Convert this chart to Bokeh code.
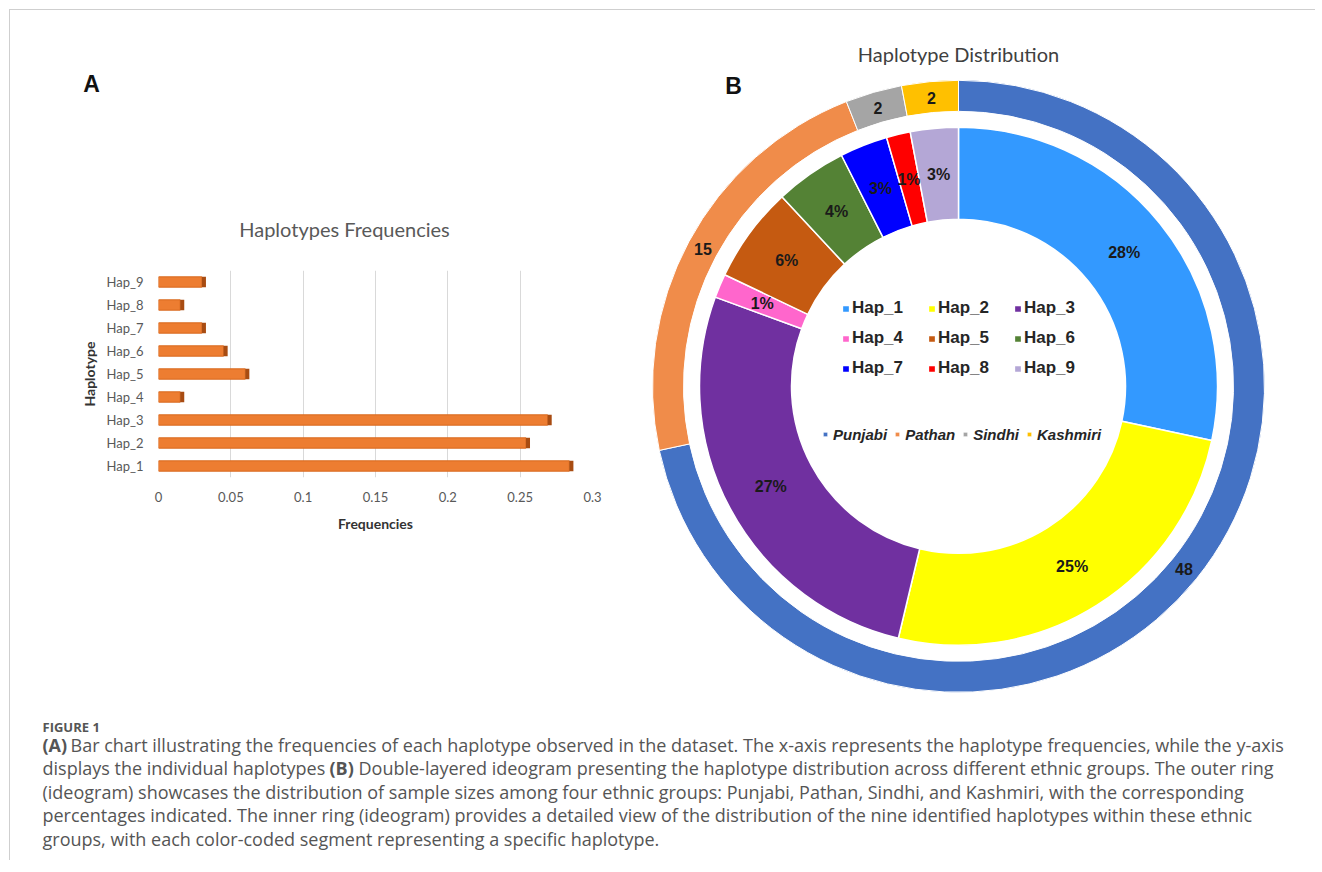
import math
from bokeh.plotting import figure
from bokeh.models import Range1d, FixedTicker, Legend, LegendItem, ColumnDataSource
from bokeh.layouts import row, column
from bokeh.embed import file_html
from bokeh.resources import INLINE
from bokeh.core.properties import value

# ---------------- data ----------------
haplotypes = ["Hap_1", "Hap_2", "Hap_3", "Hap_4", "Hap_5", "Hap_6", "Hap_7", "Hap_8", "Hap_9"]
frequencies = [0.284, 0.254, 0.269, 0.015, 0.060, 0.045, 0.030, 0.015, 0.030]
freq_ticks = [0, 0.05, 0.1, 0.15, 0.2, 0.25, 0.3]
freq_tick_labels = ["0", "0.05", "0.1", "0.15", "0.2", "0.25", "0.3"]

hap_counts = [19, 17, 18, 1, 4, 3, 2, 1, 2]
hap_percent_labels = ["28%", "25%", "27%", "1%", "6%", "4%", "3%", "1%", "3%"]
hap_colors = ["#3399FF", "#FFFF00", "#7030A0", "#FF66CC", "#C55A11",
              "#548235", "#0000FF", "#FF0000", "#B4A7D6"]

groups = ["Punjabi", "Pathan", "Sindhi", "Kashmiri"]
group_counts = [48, 15, 2, 2]
group_colors = ["#4472C4", "#F08C4A", "#A5A5A5", "#FFC000"]

caption_head = "FIGURE 1"
caption_lines = [
    "(A) Bar chart illustrating the frequencies of each haplotype observed in the dataset. The x-axis represents the haplotype frequencies, while the y-axis",
    "displays the individual haplotypes (B) Double-layered ideogram presenting the haplotype distribution across different ethnic groups. The outer ring",
    "(ideogram) showcases the distribution of sample sizes among four ethnic groups: Punjabi, Pathan, Sindhi, and Kashmiri, with the corresponding",
    "percentages indicated. The inner ring (ideogram) provides a detailed view of the distribution of the nine identified haplotypes within these ethnic",
    "groups, with each color-coded segment representing a specific haplotype.",
]

CAL = "Lato"
ARIAL = "Liberation Sans"


def blank(w, h, xr, yr):
    f = figure(width=w, height=h, x_range=xr, y_range=yr, output_backend="svg",
               toolbar_location=None, min_border=0, x_axis_location=None,
               y_axis_location=None, frame_align=False)
    f.grid.grid_line_color = None
    f.outline_line_color = None
    return f


# ---------------- panel A: heading strip ----------------
pat = blank(639, 245, Range1d(0, 639), Range1d(245, 0))
pat.text(x=[81], y=[73], text=["A"], text_font=value(ARIAL), text_font_style="bold",
         text_font_size="23px", text_color="#111111", text_align="center",
         text_baseline="middle")
pat.text(x=[334], y=[218], text=["Haplotypes Frequencies"], text_font=value(CAL),
         text_font_size="20px", text_color="#595959", text_align="center",
         text_baseline="middle")

# ---------------- panel A: bar chart ----------------
pa = figure(width=639, height=455, x_range=Range1d(0, 0.3), y_range=Range1d(0.5, 9.5),
            output_backend="svg", toolbar_location=None, frame_align=False,
            min_border_left=148, min_border_right=57, min_border_top=15, min_border_bottom=233)
pa.outline_line_color = None

ypos = list(range(1, len(haplotypes) + 1))
bar_src = ColumnDataSource(dict(y=ypos, right=frequencies,
                                cap=[f + 0.0028 for f in frequencies]))
pa.hbar(y="y", left=0, right="right", height=0.45, fill_color="#ED7D31",
        line_color="#D8691E", line_width=1, source=bar_src)
pa.hbar(y="y", left="right", right="cap", height=0.45, fill_color="#A84C12",
        line_color=None, source=bar_src)

pa.xaxis.ticker = FixedTicker(ticks=freq_ticks)
pa.xaxis.major_label_overrides = dict(zip(freq_ticks, freq_tick_labels))
pa.yaxis.ticker = FixedTicker(ticks=ypos)
pa.yaxis.major_label_overrides = dict(zip(ypos, haplotypes))
for ax in (pa.xaxis[0], pa.yaxis[0]):
    ax.axis_line_color = None
    ax.major_tick_line_color = None
    ax.minor_tick_line_color = None
    ax.major_label_text_font = CAL
    ax.major_label_text_font_size = "13px"
    ax.major_label_text_color = "#595959"
    ax.axis_label_text_font = CAL
    ax.axis_label_text_font_style = "bold"
    ax.axis_label_text_font_size = "14px"
    ax.axis_label_text_color = "#333333"
pa.xaxis.axis_label = "Frequencies"
pa.yaxis.axis_label = "Haplotype"
pa.xaxis.major_label_standoff = 8
pa.yaxis.major_label_standoff = 9
pa.xaxis.axis_label_standoff = 10
pa.yaxis.axis_label_standoff = 6
pa.xgrid.grid_line_color = "#D9D9D9"
pa.ygrid.grid_line_color = None

# ---------------- panel B: double donut ----------------
pb = blank(666, 700, Range1d(0, 666), Range1d(0, 700))
cx, cy = 309, 324.2


def ring_angles(counts):
    total = sum(counts)
    starts, ends, mids = [], [], []
    acc = 0
    for c in counts:
        a0 = math.pi / 2 - 2 * math.pi * acc / total
        acc += c
        a1 = math.pi / 2 - 2 * math.pi * acc / total
        starts.append(a0)
        ends.append(a1)
        mids.append((a0 + a1) / 2)
    return starts, ends, mids


os_, oe_, om_ = ring_angles(group_counts)
outer_src = ColumnDataSource(dict(start=os_, end=oe_, color=group_colors, name=groups,
                                  lx=[cx + 290 * math.cos(m) for m in om_],
                                  ly=[cy + 290 * math.sin(m) for m in om_],
                                  lab=[str(c) for c in group_counts]))
r_outer = pb.annular_wedge(x=cx, y=cy, inner_radius=275, outer_radius=306,
                           start_angle="start", end_angle="end", direction="clock",
                           fill_color="color", line_color="white", line_width=1,
                           source=outer_src)

is_, ie_, im_ = ring_angles(hap_counts)
inner_src = ColumnDataSource(dict(start=is_, end=ie_, color=hap_colors, name=haplotypes,
                                  lx=[cx + 213 * math.cos(m) for m in im_],
                                  ly=[cy + 213 * math.sin(m) for m in im_],
                                  lab=hap_percent_labels))
r_inner = pb.annular_wedge(x=cx, y=cy, inner_radius=167, outer_radius=259,
                           start_angle="start", end_angle="end", direction="clock",
                           fill_color="color", line_color="white", line_width=1.5,
                           source=inner_src)

for src in (outer_src, inner_src):
    pb.text(x="lx", y="ly", text="lab", source=src, text_align="center",
            text_baseline="middle", text_font=value(ARIAL), text_font_style="bold",
            text_font_size="16px", text_color="#1a1a1a")

pb.text(x=[309], y=[657], text=["Haplotype Distribution"], text_align="center",
        text_baseline="middle", text_font=value(CAL), text_font_size="20px",
        text_color="#404040")
pb.text(x=[84], y=[625], text=["B"], text_align="center", text_baseline="middle",
        text_font=value(ARIAL), text_font_style="bold", text_font_size="23px",
        text_color="#111111")

leg1 = Legend(items=[LegendItem(label=h, renderers=[r_inner], index=i)
                     for i, h in enumerate(haplotypes)],
              orientation="horizontal", ncols=3, location=(192, 331),
              glyph_width=9, glyph_height=9, label_standoff=2, spacing=8,
              label_width=67, label_height=22, padding=0, margin=0,
              border_line_color=None, background_fill_alpha=0,
              label_text_font=ARIAL, label_text_font_style="bold",
              label_text_font_size="17px", label_text_color="#262626")
pb.add_layout(leg1)

leg2 = Legend(items=[LegendItem(label=g, renderers=[r_outer], index=i)
                     for i, g in enumerate(groups)],
              orientation="horizontal", location=(173, 266),
              glyph_width=6, glyph_height=6, label_standoff=5, spacing=7,
              label_width=20, label_height=20, padding=0, margin=0,
              border_line_color=None, background_fill_alpha=0,
              label_text_font=ARIAL, label_text_font_style="bold italic",
              label_text_font_size="15px", label_text_color="#262626")
pb.add_layout(leg2)

# ---------------- caption ----------------
pc = blank(1305, 150, Range1d(0, 1305), Range1d(150, 0))
CAPF = "Open Sans"
CAPC = "#555555"
FS = "18px"
pc.text(x=[32], y=[16], text=[caption_head], text_font=value(CAPF), text_font_style="bold",
        text_font_size="13px", text_color=CAPC, text_baseline="middle")
line_y = [34, 57.5, 81, 104.5, 128]
pc.text(x=[32], y=[line_y[0]], text=["(A)"], text_font=value(CAPF), text_font_style="bold",
        text_font_size=FS, text_color=CAPC, text_baseline="middle")
pc.text(x=[60], y=[line_y[0]], text=[caption_lines[0][4:]], text_font=value(CAPF),
        text_font_size=FS, text_color=CAPC, text_baseline="middle")
l2 = caption_lines[1]
k = l2.index("(B)")
pc.text(x=[32], y=[line_y[1]], text=[l2[:k]], text_font=value(CAPF),
        text_font_size=FS, text_color=CAPC, text_baseline="middle")
pc.text(x=[319], y=[line_y[1]], text=["(B)"], text_font=value(CAPF), text_font_style="bold",
        text_font_size=FS, text_color=CAPC, text_baseline="middle")
pc.text(x=[348], y=[line_y[1]], text=[l2[k + 4:]], text_font=value(CAPF),
        text_font_size=FS, text_color=CAPC, text_baseline="middle")
pc.text(x=[32] * 3, y=line_y[2:], text=caption_lines[2:], text_font=value(CAPF),
        text_font_size=FS, text_color=CAPC, text_baseline="middle")

layout = column(row(column(pat, pa), pb), pc, margin=(9, 0, 0, 9),
                styles={"border-top": "1px solid #cfcfcf", "border-left": "1px solid #cfcfcf"})

open("out.html", "w").write(file_html(layout, INLINE))
